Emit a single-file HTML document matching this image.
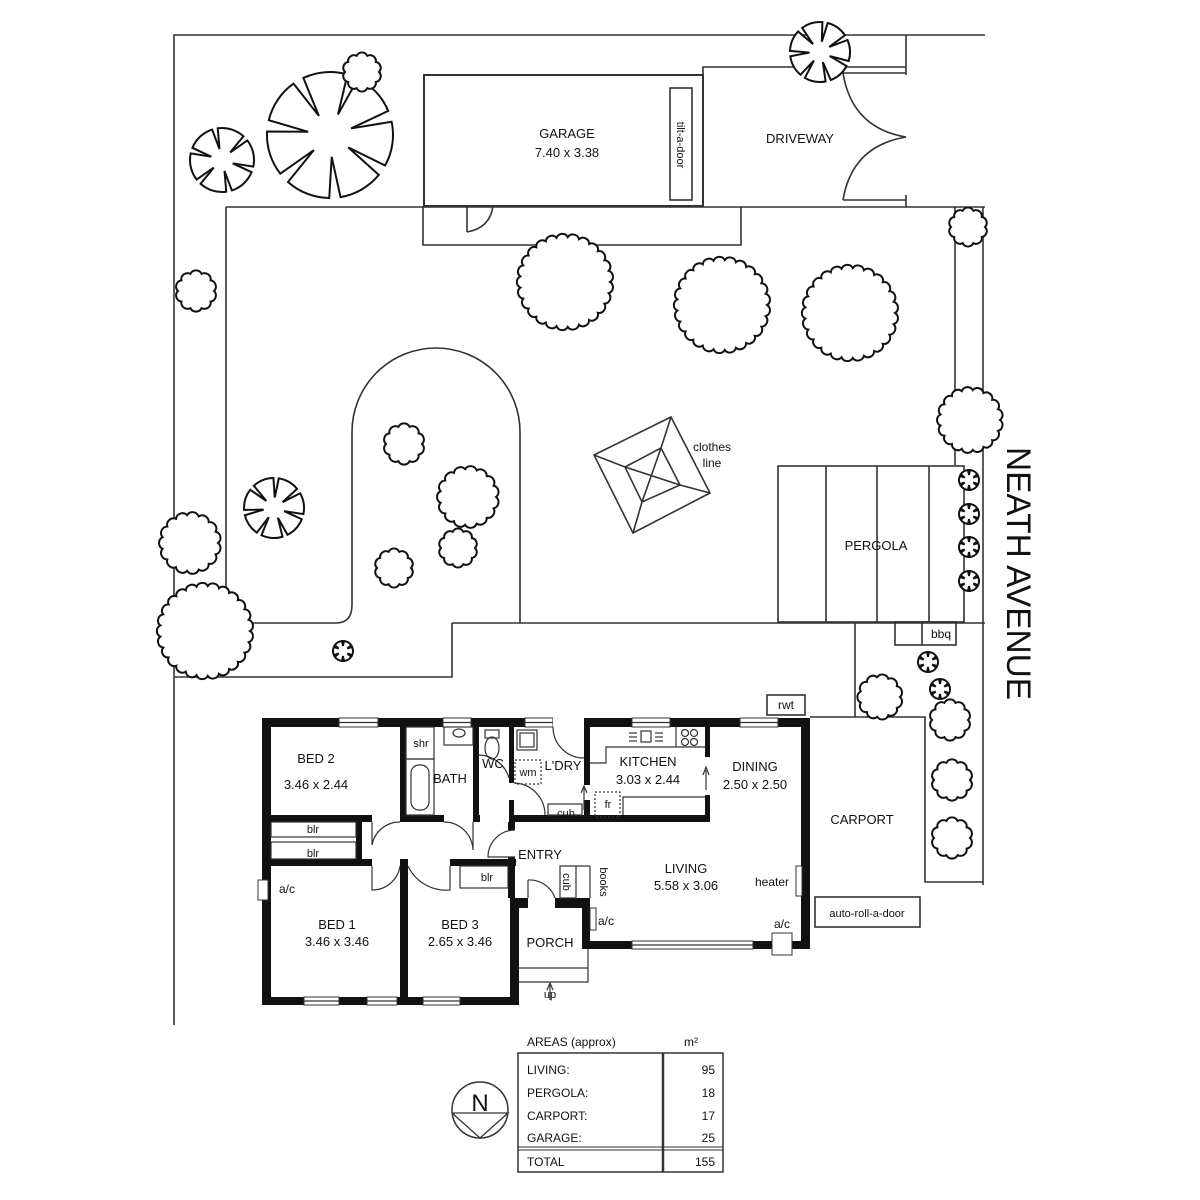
<!DOCTYPE html>
<html><head><meta charset="utf-8">
<style>
html,body{margin:0;padding:0;background:#fff;}
svg{display:block;}
text{font-family:"Liberation Sans",sans-serif;fill:#111;}
</style></head>
<body>
<svg id="s" width="1200" height="1200" viewBox="0 0 1200 1200" xmlns="http://www.w3.org/2000/svg">
<rect width="1200" height="1200" fill="#fff"/>
<g fill="none" stroke="#333" stroke-width="1.6">
  <!-- site boundary -->
  <polyline points="174,1025 174,35 985,35"/>
  <line x1="906" y1="35" x2="906" y2="75"/>
  <!-- driveway -->
  <polyline points="703,75 703,67 906,67"/>
  <line x1="843" y1="73" x2="906" y2="73"/>
  <line x1="843" y1="200" x2="906" y2="200"/>
  <line x1="906" y1="195" x2="906" y2="207"/>
  <path d="M843,73 Q852,128 906,137 Q852,146 843,200"/>
  <!-- garage -->
  <rect x="424" y="75" width="279" height="131" stroke-width="2"/>
  <rect x="670" y="88" width="22" height="112"/>
  <polyline points="467,206 467,232"/>
  <path d="M467,232 Q490,228 493,206"/>
  <polyline points="423,206 423,245 741,245 741,207"/>
  <!-- yard inner -->
  <polyline points="226,207 985,207"/>
  <path d="M226,207 L226,605 Q226,623 244,623 L336,623 Q352,623 352,605 L352,432 A84,84 0 0 1 520,432 L520,623"/>
  <polyline points="452,623 985,623"/>
  <polyline points="174,677 452,677 452,623"/>
  <line x1="955" y1="207" x2="955" y2="465"/>
  <line x1="983" y1="207" x2="983" y2="885"/>
  <!-- pergola -->
  <rect x="778" y="466" width="186" height="156"/>
  <line x1="826" y1="466" x2="826" y2="622"/>
  <line x1="877" y1="466" x2="877" y2="622"/>
  <line x1="929" y1="466" x2="929" y2="622"/>
  <rect x="895" y="622" width="61" height="23"/>
  <line x1="922" y1="622" x2="922" y2="645"/>
  <line x1="855" y1="623" x2="855" y2="717"/>
  <!-- clothes line -->
  <polygon points="671,417 710,493 633,533 594,455"/>
  <polygon points="661,448 680,485 642,502 625,467"/>
  <line x1="671" y1="417" x2="661" y2="448"/><line x1="710" y1="493" x2="680" y2="485"/>
  <line x1="633" y1="533" x2="642" y2="502"/><line x1="594" y1="455" x2="625" y2="467"/>
  <line x1="661" y1="448" x2="642" y2="502"/><line x1="625" y1="467" x2="680" y2="485"/>
  <!-- carport -->
  <polyline points="810,717 925,717 925,882 983,882"/>
  <rect x="815" y="897" width="105" height="30"/>
  <rect x="767" y="695" width="38" height="20"/>
</g>

<!-- HOUSE walls -->
<g fill="#111">
  <rect x="262" y="718" width="548" height="9"/>
  <rect x="262" y="718" width="9" height="287"/>
  <rect x="801" y="718" width="9" height="231"/>
  <rect x="262" y="997" width="257" height="8"/>
  <rect x="510" y="898" width="9" height="107"/>
  <rect x="582" y="941" width="228" height="8"/>
  <rect x="582" y="898" width="8" height="51"/>
  <rect x="510" y="898" width="18" height="10"/>
  <rect x="555" y="898" width="35" height="10"/>
  <rect x="400" y="727" width="6" height="95"/>
  <rect x="473" y="727" width="6" height="95"/>
  <rect x="509" y="727" width="5" height="56"/>
  <rect x="509" y="800" width="5" height="22"/>
  <rect x="509" y="815" width="201" height="7"/>
  <rect x="509" y="815" width="6" height="15"/>
  <rect x="584" y="727" width="6" height="58"/>
  <rect x="584" y="800" width="6" height="22"/>
  <rect x="705" y="727" width="5" height="30"/>
  <rect x="705" y="795" width="5" height="27"/>
  <rect x="262" y="815" width="110" height="7"/>
  <rect x="400" y="815" width="44" height="7"/>
  <rect x="473" y="815" width="7" height="7"/>
  <rect x="356" y="815" width="6" height="50"/>
  <rect x="262" y="859" width="110" height="7"/>
  <rect x="400" y="859" width="8" height="146"/>
  <rect x="450" y="859" width="66" height="7"/>
  <rect x="508" y="822" width="7" height="8"/>
  <rect x="508" y="857" width="7" height="41"/>
</g>
<!-- windows -->
<g fill="#fff" stroke="#333" stroke-width="1">
  <rect x="339" y="718" width="39" height="9"/><rect x="443" y="718" width="28" height="9"/>
  <rect x="525" y="718" width="28" height="9"/><rect x="632" y="718" width="38" height="9"/>
  <rect x="740" y="718" width="38" height="9"/>
  <rect x="304" y="997" width="35" height="8"/><rect x="367" y="997" width="30" height="8"/>
  <rect x="423" y="997" width="37" height="8"/><rect x="632" y="941" width="121" height="8"/>
  <rect x="553" y="717" width="31" height="11" stroke="none"/>
  <rect x="258" y="880" width="10" height="20"/>
  <rect x="772" y="933" width="20" height="22"/>
  <rect x="796" y="866" width="6" height="30"/>
  <rect x="590" y="908" width="6" height="22"/>
</g>
<g fill="none" stroke="#333" stroke-width="1.2">
  <line x1="339" y1="722.5" x2="378" y2="722.5"/><line x1="443" y1="722.5" x2="471" y2="722.5"/>
  <line x1="525" y1="722.5" x2="553" y2="722.5"/><line x1="632" y1="722.5" x2="670" y2="722.5"/>
  <line x1="740" y1="722.5" x2="778" y2="722.5"/><line x1="304" y1="1001" x2="339" y2="1001"/>
  <line x1="367" y1="1001" x2="397" y2="1001"/><line x1="423" y1="1001" x2="460" y2="1001"/>
  <line x1="632" y1="945" x2="753" y2="945"/>
  <!-- blr boxes -->
  <rect x="271" y="822" width="85" height="15"/><rect x="271" y="842" width="85" height="17"/>
  <rect x="460" y="866" width="48" height="22"/>
  <rect x="560" y="866" width="16" height="32"/><line x1="576" y1="866" x2="590" y2="866"/><line x1="590" y1="866" x2="590" y2="898"/>
  <!-- bath fixtures -->
  <rect x="406" y="727" width="28" height="32"/><rect x="406" y="759" width="28" height="56"/>
  <rect x="411" y="765" width="18" height="45" rx="8"/>
  <rect x="444" y="727" width="29" height="18"/><ellipse cx="459" cy="733" rx="6" ry="4"/>
  <rect x="485" y="730" width="14" height="8"/><ellipse cx="492" cy="748" rx="7" ry="11"/>
  <rect x="517" y="730" width="20" height="20"/><rect x="520" y="733" width="14" height="14"/>
  <rect x="515" y="760" width="26" height="24" stroke-dasharray="2,2"/>
  <rect x="548" y="804" width="34" height="11"/>
  <!-- kitchen -->
  <polyline points="590,763 606,763 606,747 705,747"/>
  <polyline points="623,815 623,797 705,797"/>
  <rect x="595" y="792" width="25" height="25" stroke-dasharray="2,2"/>
  <rect x="641" y="731" width="10" height="11"/>
  <line x1="629" y1="733" x2="637" y2="733"/><line x1="629" y1="737" x2="637" y2="737"/><line x1="629" y1="741" x2="637" y2="741"/>
  <line x1="655" y1="733" x2="663" y2="733"/><line x1="655" y1="737" x2="663" y2="737"/><line x1="655" y1="741" x2="663" y2="741"/>
  <line x1="676" y1="727" x2="676" y2="747"/>
  <circle cx="685" cy="733" r="3.5"/><circle cx="694" cy="733" r="3.5"/><circle cx="685" cy="742" r="3.5"/><circle cx="694" cy="742" r="3.5"/>
  <!-- arrows -->
  <line x1="584" y1="810" x2="584" y2="788"/><polyline points="581,793 584,786 587,793"/>
  <line x1="706" y1="790" x2="706" y2="770"/><polyline points="703,775 706,767 709,775"/>
  <line x1="550" y1="1000" x2="550" y2="985"/><polyline points="547,990 550,983 553,990"/>
  <!-- porch steps -->
  <polyline points="519,968 588,968 588,949"/><polyline points="519,982 588,982 588,968"/>
  <!-- door swings -->
  <path d="M372,845 L372,822 M372,845 A28,28 0 0 1 400,822" />
  <path d="M444,822 A29,29 0 0 1 473,850 L473,822"/>
  <path d="M372,866 L372,890 A28,28 0 0 0 400,866"/>
  <path d="M408,866 A42,42 0 0 0 450,890 L450,866"/>
  <path d="M515,830 A27,27 0 0 0 488,857 L515,857"/>
  <path d="M515,783 A32,32 0 0 1 545,815"/>
  <path d="M553,727 A31,31 0 0 0 584,758"/>
  <path d="M528,880 L528,898 M528,880 A27,27 0 0 1 555,898"/>
  <path d="M479,755 A32,32 0 0 1 509,778"/>
</g>

<!-- TEXT -->
<g font-size="13" text-anchor="middle">
  <text x="567" y="138">GARAGE</text><text x="567" y="157">7.40 x 3.38</text>
  <text x="800" y="143">DRIVEWAY</text>
  <text x="681" y="145" font-size="11" transform="rotate(90 681 145)" dy="4">tilt-a-door</text>
  <text x="712" y="451" font-size="12">clothes</text><text x="712" y="467" font-size="12">line</text>
  <text x="876" y="550">PERGOLA</text>
  <text x="941" y="638" font-size="12">bbq</text>
  <text x="786" y="709" font-size="12">rwt</text>
  <text x="316" y="763">BED 2</text><text x="316" y="789">3.46 x 2.44</text>
  <text x="421" y="747" font-size="11">shr</text>
  <text x="450" y="783">BATH</text>
  <text x="493" y="768">WC</text>
  <text x="528" y="776" font-size="11">wm</text>
  <text x="563" y="770">L'DRY</text>
  <text x="648" y="766">KITCHEN</text><text x="648" y="784">3.03 x 2.44</text>
  <text x="755" y="771">DINING</text><text x="755" y="789">2.50 x 2.50</text>
  <text x="566" y="817" font-size="11">cub</text>
  <text x="608" y="808" font-size="11">fr</text>
  <text x="313" y="833" font-size="11">blr</text><text x="313" y="857" font-size="11">blr</text>
  <text x="540" y="859">ENTRY</text>
  <text x="487" y="881" font-size="11">blr</text>
  <text x="567" y="882" font-size="11" transform="rotate(90 567 882)" dy="4">cub</text>
  <text x="604" y="882" font-size="11" transform="rotate(90 604 882)" dy="4">books</text>
  <text x="686" y="873">LIVING</text><text x="686" y="890">5.58 x 3.06</text>
  <text x="772" y="886" font-size="12">heater</text>
  <text x="287" y="893" font-size="12">a/c</text>
  <text x="337" y="929">BED 1</text><text x="337" y="946">3.46 x 3.46</text>
  <text x="460" y="929">BED 3</text><text x="460" y="946">2.65 x 3.46</text>
  <text x="550" y="947">PORCH</text>
  <text x="606" y="925" font-size="12">a/c</text>
  <text x="782" y="928" font-size="12">a/c</text>
  <text x="550" y="998" font-size="11">up</text>
  <text x="862" y="824">CARPORT</text>
  <text x="867" y="917" font-size="11">auto-roll-a-door</text>
</g>
<text x="1007" y="447" font-size="34" textLength="253" lengthAdjust="spacingAndGlyphs" transform="rotate(90 1007 447)">NEATH AVENUE</text>

<!-- areas table -->
<g fill="none" stroke="#333">
  <rect x="518" y="1053" width="205" height="119" stroke-width="1.5"/>
  <line x1="663" y1="1053" x2="663" y2="1172" stroke-width="2.5"/>
  <line x1="518" y1="1147" x2="723" y2="1147" stroke-width="1"/>
  <line x1="518" y1="1150" x2="723" y2="1150" stroke-width="1"/>
  <circle cx="480" cy="1110" r="28" stroke-width="1.5"/>
  <polyline points="452,1113 508,1113 480,1138 452,1113" stroke-width="1.3"/>
</g>
<text x="480" y="1111" font-size="24" text-anchor="middle">N</text>
<g font-size="12">
  <text x="527" y="1046">AREAS (approx)</text><text x="684" y="1046">m²</text>
  <text x="527" y="1074">LIVING:</text><text x="527" y="1097">PERGOLA:</text>
  <text x="527" y="1120">CARPORT:</text><text x="527" y="1142">GARAGE:</text>
  <text x="527" y="1166">TOTAL</text>
  <g text-anchor="end"><text x="715" y="1074">95</text><text x="715" y="1097">18</text>
  <text x="715" y="1120">17</text><text x="715" y="1142">25</text><text x="715" y="1166">155</text></g>
</g>
<g id="trees" fill="#fff" stroke="#111" stroke-width="2"></g>
</svg>
<script>
(function(){
var g=document.getElementById('trees');
function bumpy(cx,cy,r){
  var n=Math.max(10,Math.round(r*0.55)),d='';
  for(var i=0;i<=n;i++){
    var a=i/n*2*Math.PI, x=cx+r*Math.cos(a), y=cy+r*Math.sin(a);
    if(i==0) d+='M'+x.toFixed(1)+','+y.toFixed(1);
    else { var br=(2*Math.PI*r/n)*0.55; d+=' A'+br.toFixed(1)+','+br.toFixed(1)+' 0 0 1 '+x.toFixed(1)+','+y.toFixed(1);}
  }
  add(d+'Z');
}
function spoke(cx,cy,r,k,off){
  var d='',w=0.09, depth=r>25?0.35:0.5;
  for(var i=0;i<k;i++){
    var a=off+i/k*2*Math.PI;
    var p1=[cx+r*Math.cos(a-w),cy+r*Math.sin(a-w)];
    var p2=[cx+r*depth*Math.cos(a),cy+r*depth*Math.sin(a)];
    var p3=[cx+r*Math.cos(a+w),cy+r*Math.sin(a+w)];
    var an=off+(i+1)/k*2*Math.PI-w;
    var p4=[cx+r*Math.cos(an),cy+r*Math.sin(an)];
    if(i==0) d+='M'+p1.join(',');
    d+=' L'+p2.join(',')+' L'+p3.join(',')+' A'+r+','+r+' 0 0 1 '+p4.join(',');
  }
  add(d+'Z');
}
function add(d){var p=document.createElementNS('http://www.w3.org/2000/svg','path');p.setAttribute('d',d);g.appendChild(p);}
spoke(330,135,63,7,-1.2); bumpy(362,72,17); spoke(222,160,32,6,0.3); spoke(820,52,30,7,-1.4);
spoke(274,508,30,7,-1.5);
[[565,282,45],[722,305,45],[850,313,45],[196,291,18],[968,227,17],[970,420,30],[404,444,18],[468,497,28],[394,568,17],[458,548,17],[190,543,28],[205,631,45],[880,697,20],[950,720,18],[952,780,18],[952,838,18]].forEach(function(t){bumpy(t[0],t[1],t[2]);});
[[343,651],[969,480],[969,514],[969,547],[969,581],[928,662],[940,689]].forEach(function(t){spoke(t[0],t[1],10,6,-1.57);});
})();
</script>
</body></html>
